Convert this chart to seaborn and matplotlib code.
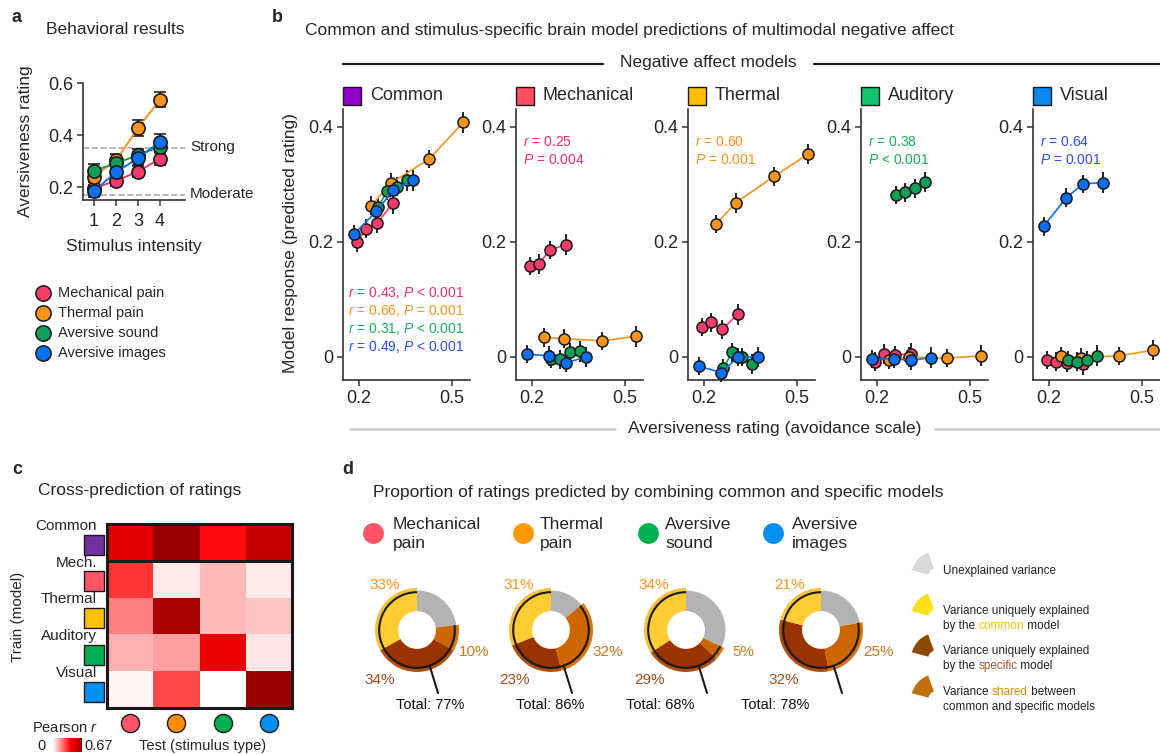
import numpy as np
import pandas as pd
import matplotlib
matplotlib.use("Agg")
import matplotlib.pyplot as plt
import seaborn as sns
from matplotlib.patches import Rectangle, Wedge, Arc
from matplotlib.colors import LinearSegmentedColormap, Normalize
from matplotlib.cm import ScalarMappable

# ---------------- data ----------------
stim_names = ["Mechanical pain", "Thermal pain", "Aversive sound", "Aversive images"]
stim_colors = ["#f23d6b", "#f7941d", "#0f9f58", "#0b6ff2"]
stat_colors = ["#ee2f6a", "#f7941d", "#19b05c", "#2d4df2"]

# a: behavioral ratings per stimulus intensity
intensity = [1, 2, 3, 4]
rating_mech = [0.195, 0.224, 0.259, 0.309]
rating_therm = [0.240, 0.303, 0.426, 0.536]
rating_sound = [0.263, 0.291, 0.323, 0.355]
rating_image = [0.184, 0.257, 0.311, 0.374]
err_mech = [0.024, 0.020, 0.022, 0.024]
err_therm = [0.022, 0.024, 0.030, 0.030]
err_sound = [0.025, 0.022, 0.024, 0.025]
err_image = [0.024, 0.022, 0.025, 0.030]
ratings = [rating_mech, rating_therm, rating_sound, rating_image]
rating_errs = [err_mech, err_therm, err_sound, err_image]

# b: model responses, one list per stimulus type (mech, thermal, sound, images)
model_names = ["Common", "Mechanical", "Thermal", "Auditory", "Visual"]
model_colors = ["#9300cf", "#ff4d5e", "#ffbf00", "#12c46d", "#0a88f0"]
resp_common = [[0.199, 0.223, 0.232, 0.267], [0.263, 0.302, 0.344, 0.408],
               [0.260, 0.289, 0.296, 0.307], [0.213, 0.253, 0.290, 0.307]]
resp_mech = [[0.158, 0.162, 0.186, 0.195], [0.034, 0.032, 0.028, 0.036],
             [-0.003, -0.004, 0.008, 0.010], [0.005, 0.002, -0.010, 0.000]]
resp_therm = [[0.052, 0.060, 0.048, 0.074], [0.231, 0.268, 0.314, 0.353],
              [-0.020, 0.008, 0.000, -0.012], [-0.016, -0.027, 0.000, 0.000]]
resp_audit = [[-0.008, 0.005, 0.003, 0.006], [-0.005, 0.000, -0.002, 0.002],
              [0.282, 0.286, 0.293, 0.304], [-0.004, -0.003, -0.006, -0.001]]
resp_visual = [[-0.005, -0.008, -0.010, -0.013], [0.001, -0.001, 0.002, 0.012],
               [-0.005, -0.008, -0.006, 0.002], [0.227, 0.277, 0.301, 0.303]]
responses = [resp_common, resp_mech, resp_therm, resp_audit, resp_visual]
resp_err = [0.016, 0.017, 0.016, 0.018]

stats_common = ["$r$ = 0.43, $P$ < 0.001", "$r$ = 0.66, $P$ = 0.001",
                "$r$ = 0.31, $P$ < 0.001", "$r$ = 0.49, $P$ < 0.001"]
stats_specific = [("$r$ = 0.25", "$P$ = 0.004"), ("$r$ = 0.60", "$P$ = 0.001"),
                  ("$r$ = 0.38", "$P$ < 0.001"), ("$r$ = 0.64", "$P$ = 0.001")]

# c: cross-prediction (rows = train model, cols = test stimulus)
train_labels = ["Common", "Mech.", "Thermal", "Auditory", "Visual"]
train_colors = ["#7030a0", "#ff5566", "#ffc000", "#00b050", "#0090f0"]
test_colors = ["#ff5566", "#ff8c00", "#00b050", "#0090f0"]
cross_pred = [[0.48, 0.67, 0.38, 0.55],
              [0.32, 0.036, 0.11, 0.036],
              [0.20, 0.625, 0.11, 0.093],
              [0.125, 0.15, 0.447, 0.041],
              [0.016, 0.29, 0.0, 0.67]]

# d: variance decomposition (%)
donut_names = ["Mechanical\npain", "Thermal\npain", "Aversive\nsound", "Aversive\nimages"]
donut_dots = ["#ff5566", "#ff9900", "#00b050", "#0090f0"]
var_common = [33, 31, 34, 21]
var_shared = [10, 32, 5, 25]
var_specific = [34, 23, 29, 32]
var_total = [77, 86, 68, 78]

# ---------------- setup ----------------
sns.set_theme(style="ticks")
plt.rcParams['font.family'] = ['Liberation Sans', 'DejaVu Sans']
plt.rcParams['mathtext.fontset'] = 'custom'
plt.rcParams['mathtext.rm'] = 'Liberation Sans'
plt.rcParams['mathtext.it'] = 'Liberation Sans:italic'

W, H = 1160, 754
fig = plt.figure(figsize=(W / 100, H / 100), dpi=100)


def box(x0, y0, x1, y1):
    return [x0 / W, 1 - y1 / H, (x1 - x0) / W, (y1 - y0) / H]


def style_ax(ax, size=13):
    sns.despine(ax=ax)
    for s in ["left", "bottom"]:
        ax.spines[s].set_linewidth(1.2)
        ax.spines[s].set_color("#333333")
    ax.tick_params(direction="out", length=4, width=1.1, labelsize=size, pad=3, color="#333333")


TS = 12.5  # title / label size

# ---------------- a ----------------
axa = fig.add_axes(box(83, 83, 185, 200))
axa.axhline(0.35, color="#aaaaaa", ls="--", lw=1.2, zorder=0)
axa.axhline(0.17, color="#aaaaaa", ls="--", lw=1.2, zorder=0)
for i in range(4):
    axa.errorbar(intensity, ratings[i], yerr=rating_errs[i], fmt="none", ecolor="#222222",
                 elinewidth=1.2, capsize=4, capthick=1.2, zorder=2, clip_on=False)
    sns.lineplot(x=intensity, y=ratings[i], ax=axa, color=stim_colors[i], marker="o",
                 markersize=9.5, markeredgecolor="k", markeredgewidth=1.2, linewidth=1.4,
                 zorder=3 + i, clip_on=False)
axa.set_xlim(0.5, 5.14)
axa.set_ylim(0.15, 0.6)
axa.set_xticks(intensity)
axa.set_yticks([0.2, 0.4, 0.6])
axa.set_yticklabels(["0.2", "0.4", "0.6"])
axa.set_xlabel("Stimulus intensity", fontsize=TS, labelpad=7)
axa.set_ylabel("Aversiveness rating", fontsize=TS, labelpad=11)
style_ax(axa, 13)
axa.tick_params(axis="x", pad=5)

# ---------------- b ----------------
lefts = [343, 516, 688, 861, 1033]
for k in range(5):
    l = lefts[k]
    ax = fig.add_axes(box(l, 109, l + 127, 380))
    for i in range(4):
        ax.errorbar(ratings[i], responses[k][i], yerr=resp_err, fmt="none", ecolor="#111111",
                    elinewidth=1.3, capsize=0, zorder=2, clip_on=False)
        sns.lineplot(x=ratings[i], y=responses[k][i], ax=ax, color=stim_colors[i], marker="o",
                     markersize=8, markeredgecolor="k", markeredgewidth=1.1, linewidth=1.2,
                     zorder=3 + i, clip_on=False)
    ax.set_xlim(0.15, 0.557)
    ax.set_ylim(-0.04, 0.431)
    ax.set_xticks([0.2, 0.5])
    ax.set_xticklabels(["0.2", "0.5"])
    ax.set_yticks([0, 0.2, 0.4])
    ax.set_yticklabels(["0", "0.2", "0.4"])
    ax.set_xlabel("")
    ax.set_ylabel("")
    style_ax(ax, 13)
    if k == 0:
        for i in range(4):
            ax.text(0.04, 0.321 - 0.0665 * i, stats_common[i], transform=ax.transAxes,
                    color=stat_colors[i], fontsize=10, va="center")
    else:
        for j in range(2):
            ax.text(0.055, 0.878 - 0.066 * j, stats_specific[k - 1][j], transform=ax.transAxes,
                    color=stat_colors[k - 1], fontsize=10, va="center")

# ---------------- c ----------------
cmap = LinearSegmentedColormap.from_list("wr", [(0, "#ffffff"), (0.6, "#ff0000"), (1, "#990000")])
axc = fig.add_axes(box(107, 524, 292, 708))
sns.heatmap(pd.DataFrame(cross_pred), ax=axc, cmap=cmap, vmin=0, vmax=0.67, cbar=False,
            xticklabels=False, yticklabels=False)
for s in axc.spines.values():
    s.set_visible(True)
    s.set_linewidth(2.2)
    s.set_color("k")
axc.axhline(1, color="k", lw=2.2)
for i in range(5):
    axc.text(-0.22, i + 0.05, train_labels[i], ha="right", va="center", fontsize=11)
    axc.scatter([-0.29], [i + 0.56], marker="s", s=190, color=train_colors[i],
                edgecolor="k", linewidth=1, clip_on=False)
for j in range(4):
    axc.scatter([j + 0.5], [5.41], marker="o", s=170, color=test_colors[j],
                edgecolor="k", linewidth=1, clip_on=False)

cax = fig.add_axes(box(53, 738, 82, 752))
cb = fig.colorbar(ScalarMappable(Normalize(0, 0.67), cmap), cax=cax, orientation="horizontal")
cb.set_ticks([])
cb.outline.set_visible(False)

# ---------------- d ----------------
main_cols = ["#b3b3b3", "#cc6600", "#993300", "#ffcc33"]
rim_cols = ["none", "#d27812", "#b05312", "#f6bf3c"]
centers = [417, 551, 686, 821]
total_dx = [13, -1, -26, -46]
for i in range(4):
    cx, cy = centers[i], 630
    axd = fig.add_axes(box(cx - 50, cy - 50, cx + 50, cy + 50))
    unexpl = 100 - var_total[i]
    vals = [unexpl, var_shared[i], var_specific[i], var_common[i]]
    axd.pie(vals, colors=rim_cols, radius=1.0, startangle=90, counterclock=False,
            wedgeprops=dict(width=0.12, linewidth=0))
    axd.pie(vals, colors=main_cols, radius=0.94, startangle=90, counterclock=False,
            wedgeprops=dict(width=0.49, linewidth=0))
    axd.add_patch(Arc((0, 0), 1.8, 1.8, theta1=90, theta2=450 - 3.6 * unexpl, color="k", lw=1.5))
    axd.plot([0.31, 0.5], [-0.88, -1.5], color="k", lw=1.5, clip_on=False)
    axd.set_xlim(-1.19, 1.19)
    axd.set_ylim(-1.19, 1.19)
    axd.set_aspect("equal")
    axd.axis("off")
    axd.text(-0.76, 1.07, f"{var_common[i]}%", color="#f7941d", ha="center", va="center", fontsize=11)
    axd.text(1.36, -0.52, f"{var_shared[i]}%", color="#c9791c", ha="center", va="center", fontsize=11)
    axd.text(-0.88, -1.19, f"{var_specific[i]}%", color="#a34d1c", ha="center", va="center", fontsize=11)
    axd.text(total_dx[i] / 42, -1.79, f"Total: {var_total[i]}%", color="#111111", ha="center",
             va="center", fontsize=10.5)

# ---------------- overlay texts / decorations ----------------
ov = fig.add_axes([0, 0, 1, 1])
ov.set_xlim(0, W)
ov.set_ylim(H, 0)
ov.axis("off")
ov.patch.set_alpha(0)

for x, y, s in [(12, 18, "a"), (272, 18, "b"), (12, 470, "c"), (342, 470, "d")]:
    ov.text(x, y, s, fontsize=13, fontweight="bold", va="center")
ov.text(46, 30, "Behavioral results", fontsize=TS, va="center")
ov.text(305, 30, "Common and stimulus-specific brain model predictions of multimodal negative affect",
        fontsize=TS, va="center")
ov.text(38, 490, "Cross-prediction of ratings", fontsize=TS, va="center")
ov.text(373, 493, "Proportion of ratings predicted by combining common and specific models",
        fontsize=TS, va="center")

# a labels
ov.text(190, 147, "Strong", fontsize=11, va="center")
ov.text(190, 194, "Moderate", fontsize=11, va="center")
for i in range(4):
    ov.plot([43], [293 + 20 * i], marker="o", markersize=11, color=stim_colors[i],
            markeredgecolor="k", markeredgewidth=1.1)
    ov.text(58, 293 + 20 * i, stim_names[i], fontsize=10.5, va="center")

# b header
ov.plot([343, 603], [64, 64], color="k", lw=1.6)
ov.plot([814, 1160], [64, 64], color="k", lw=1.6)
ov.text(708, 63, "Negative affect models", fontsize=TS, ha="center", va="center")
for k in range(5):
    l = lefts[k]
    ov.add_patch(Rectangle((l, 87), 18, 18, facecolor=model_colors[k], edgecolor="k", lw=1))
    ov.text(l + 27, 96, model_names[k], fontsize=13, va="center")
ov.plot([350, 615], [429, 429], color="#cccccc", lw=1.8)
ov.plot([935, 1160], [429, 429], color="#cccccc", lw=1.8)
ov.text(775, 428, "Aversiveness rating (avoidance scale)", fontsize=TS, ha="center", va="center")
ov.text(291, 243, "Model response (predicted rating)", fontsize=TS, ha="center", va="center",
        rotation=90)

# c labels
ov.text(18, 617, "Train (model)", fontsize=11, ha="center", va="center", rotation=90)
ov.text(32, 728, "Pearson $r$", fontsize=10.5, va="center")
ov.text(37, 746, "0", fontsize=10.5, va="center")
ov.text(84, 746, "0.67", fontsize=10.5, va="center")
ov.text(203, 746, "Test (stimulus type)", fontsize=10.5, ha="center", va="center")

# d stimulus legend
for i, (cx, tx) in enumerate([(373, 393), (523, 540), (648, 665), (773, 792)]):
    ov.plot([cx], [533], marker="o", markersize=15, color=donut_dots[i], markeredgewidth=0)
    ov.text(tx, 534, donut_names[i], fontsize=12.5, va="center", linespacing=1.35)

# d variance legend
icon_cols = ["#d9d9d9", "#ffe015", "#8b4a00", "#c0700a"]
for j in range(4):
    ov.add_patch(Wedge((937, 577 + 41 * j), 26, -165, -110, width=17, facecolor=icon_cols[j],
                       edgecolor="none"))

renderer = fig.canvas.get_renderer()


def rich(x, y, parts, size=8.5):
    for s, c in parts:
        t = ov.text(x, y, s, color=c, fontsize=size, va="center")
        x += t.get_window_extent(renderer=renderer).width


dk = "#222222"
rich(943, 571, [("Unexplained variance", dk)])
rich(943, 611, [("Variance uniquely explained", dk)])
rich(943, 626, [("by the ", dk), ("common", "#ffc000"), (" model", dk)])
rich(943, 651, [("Variance uniquely explained", dk)])
rich(943, 666, [("by the ", dk), ("specific", "#a0522d"), (" model", dk)])
rich(943, 692, [("Variance ", dk), ("shared", "#d4900a"), (" between", dk)])
rich(943, 707, [("common and specific models", dk)])

fig.savefig("out.png", dpi=100)
